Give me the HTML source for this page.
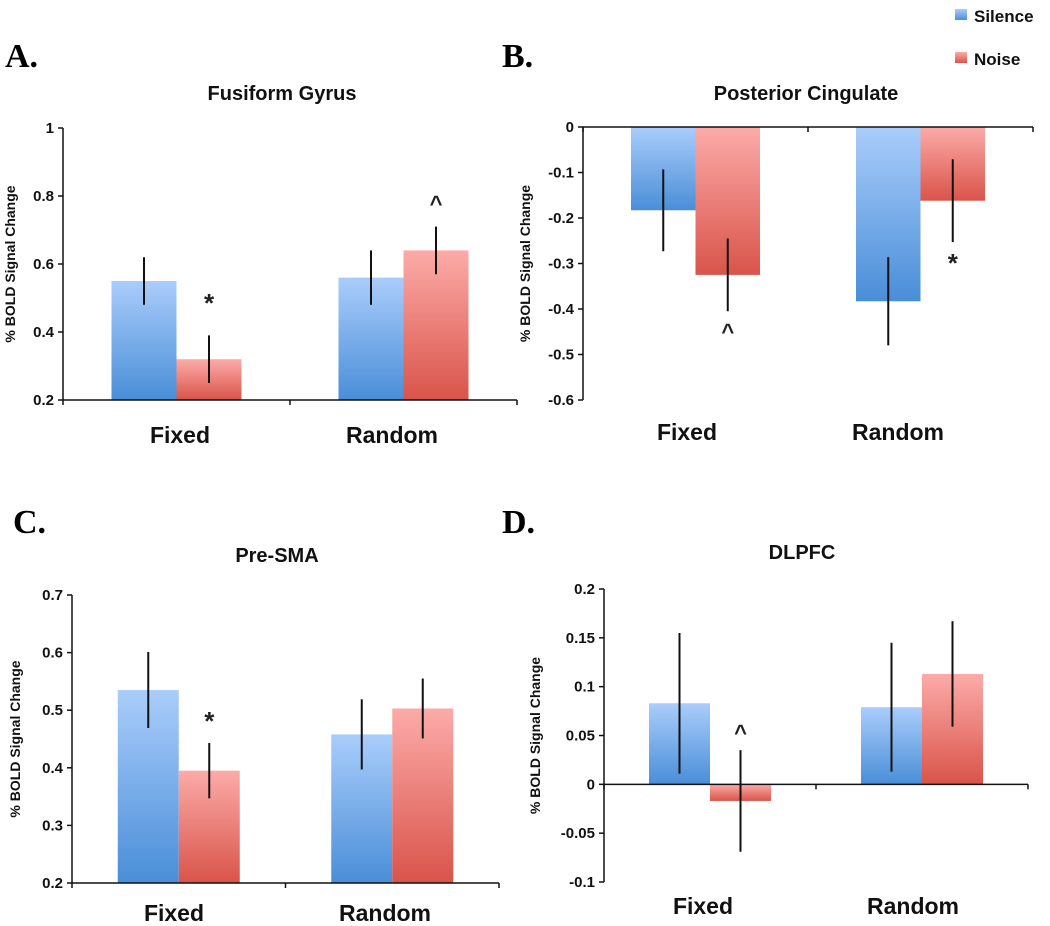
<!DOCTYPE html>
<html><head><meta charset="utf-8">
<style>
html,body{margin:0;padding:0;background:#fff;}
svg{display:block;font-family:"Liberation Sans",sans-serif;}
</style></head>
<body>
<svg id="chart" width="1050" height="926" viewBox="0 0 1050 926">
<defs>
<linearGradient id="gBlue" x1="0" y1="0" x2="0" y2="1"><stop offset="0" stop-color="#aacdfb"/><stop offset="1" stop-color="#4a8ed8"/></linearGradient>
<linearGradient id="gRed" x1="0" y1="0" x2="0" y2="1"><stop offset="0" stop-color="#fcaba8"/><stop offset="1" stop-color="#d9544a"/></linearGradient>
</defs>
<g>
<rect x="955" y="9" width="12" height="11" fill="url(#gBlue)"/>
<text x="974" y="22" font-size="17" font-weight="bold" fill="#111">Silence</text>
<rect x="955" y="52" width="12" height="11" fill="url(#gRed)"/>
<text x="974" y="65" font-size="17" font-weight="bold" fill="#111">Noise</text>
</g>
</svg>
<script>
const categories = ["Fixed", "Random"];
// Panel A: Fusiform Gyrus
const aSilence = [0.55, 0.56];
const aNoise = [0.32, 0.64];
const aSilenceErr = [0.07, 0.08];
const aNoiseErr = [0.07, 0.07];
const aTicks = [0.2, 0.4, 0.6, 0.8, 1];
const aTickLabels = ["0.2", "0.4", "0.6", "0.8", "1"];
const aMarks = ["", "*", "", "^"];
// Panel B: Posterior Cingulate
const bSilence = [-0.183, -0.383];
const bNoise = [-0.325, -0.162];
const bSilenceErr = [0.09, 0.097];
const bNoiseErr = [0.08, 0.091];
const bTicks = [-0.6, -0.5, -0.4, -0.3, -0.2, -0.1, 0];
const bTickLabels = ["-0.6", "-0.5", "-0.4", "-0.3", "-0.2", "-0.1", "0"];
const bMarks = ["", "^", "", "*"];
// Panel C: Pre-SMA
const cSilence = [0.535, 0.458];
const cNoise = [0.395, 0.503];
const cSilenceErr = [0.066, 0.061];
const cNoiseErr = [0.048, 0.052];
const cTicks = [0.2, 0.3, 0.4, 0.5, 0.6, 0.7];
const cTickLabels = ["0.2", "0.3", "0.4", "0.5", "0.6", "0.7"];
const cMarks = ["", "*", "", ""];
// Panel D: DLPFC
const dSilence = [0.083, 0.079];
const dNoise = [-0.017, 0.113];
const dSilenceErr = [0.072, 0.066];
const dNoiseErr = [0.052, 0.054];
const dTicks = [-0.1, -0.05, 0, 0.05, 0.1, 0.15, 0.2];
const dTickLabels = ["-0.1", "-0.05", "0", "0.05", "0.1", "0.15", "0.2"];
const dMarks = ["", "^", "", ""];

const svg = document.getElementById('chart');
const NS = 'http://www.w3.org/2000/svg';
function mk(tag, attrs, parent) {
  const e = document.createElementNS(NS, tag);
  for (const k in attrs) e.setAttribute(k, attrs[k]);
  parent.appendChild(e);
  return e;
}

function panel(cfg) {
  const g = mk('g', {}, svg);
  
  
  const ymin = cfg.ticks[0], ymax = cfg.ticks[cfg.ticks.length - 1];
  const y = v => cfg.yBot - (v - ymin) / (ymax - ymin) * (cfg.yBot - cfg.yTop);
  const xAxisY = y(cfg.base);
  const groupW = (cfg.xRight - cfg.xLeft) / categories.length;
  const x = i => cfg.xLeft + groupW * (i + 0.5);
  const bw = cfg.barW;

  let t = mk('text', {x: cfg.labelX, y: cfg.labelY, 'font-family': '"Liberation Serif",serif', 'font-size': 34, 'font-weight': 'bold', fill: '#000'}, g);
  t.textContent = cfg.letter;
  
  
  t = mk('text', {x: cfg.titleX, y: cfg.titleY, 'font-size': 20, 'font-weight': 'bold', 'text-anchor': 'middle', fill: '#111'}, g);
  t.textContent = cfg.title;
  
  
  const yc = (cfg.yTop + cfg.yBot) / 2;
  t = mk('text', {x: cfg.yTitleX, y: yc, 'font-size': 14, 'font-weight': 'bold', 'text-anchor': 'middle', fill: '#111', transform: 'rotate(-90 ' + cfg.yTitleX + ' ' + yc + ')'}, g);
  t.textContent = '% BOLD Signal Change';
  
  

  const series = [[cfg.silence, cfg.silenceErr, 'url(#gBlue)', 'silence'], [cfg.noise, cfg.noiseErr, 'url(#gRed)', 'noise']];
  categories.forEach((c, i) => {
    series.forEach((s, j) => {
      const v = s[0][i];
      const bx = x(i) - bw + j * bw;
      const top = Math.min(y(v), xAxisY), h = Math.abs(y(v) - xAxisY);
      const r = mk('rect', {x: bx, y: top, width: bw, height: h, fill: s[2]}, g);
      
      
    });
  });
  categories.forEach((c, i) => {
    series.forEach((s, j) => {
      const v = s[0][i], e = s[1][i];
      const cx = x(i) - bw / 2 + j * bw;
      const l = mk('line', {x1: cx, x2: cx, y1: y(v + e), y2: y(v - e), stroke: '#111', 'stroke-width': 2}, g);
      
      
      const m = cfg.marks[i * 2 + j];
      if (m) {
        const my = m === '*' ? cfg.markY[i * 2 + j] + 12 : cfg.markY[i * 2 + j] + 16;
        const mt = mk('text', {x: cx, y: my, 'font-size': m === '*' ? 26 : 22, 'font-weight': 'bold', 'text-anchor': 'middle', fill: '#222'}, g);
        mt.textContent = m;
        
        
      }
    });
  });

  let a = mk('line', {x1: cfg.xLeft, x2: cfg.xLeft, y1: cfg.yTop, y2: cfg.yBot, stroke: '#111', 'stroke-width': 1.5}, g);
  
  
  a = mk('line', {x1: cfg.xLeft, x2: cfg.xRight, y1: xAxisY, y2: xAxisY, stroke: '#111', 'stroke-width': 1.5}, g);
  
  
  for (let k = 0; k <= categories.length; k++) {
    const tx = cfg.xLeft + k * groupW;
    const tk = mk('line', {x1: tx, x2: tx, y1: xAxisY, y2: xAxisY + 5, stroke: '#111', 'stroke-width': 1.5}, g);
    
    
  }
  cfg.ticks.forEach((v, k) => {
    const tk = mk('line', {x1: cfg.xLeft - 5, x2: cfg.xLeft, y1: y(v), y2: y(v), stroke: '#111', 'stroke-width': 1.5}, g);
    
    
    const tl = mk('text', {x: cfg.xLeft - 9, y: y(v) + 5, 'font-size': 15, 'font-weight': 'bold', 'text-anchor': 'end', fill: '#111'}, g);
    tl.textContent = cfg.tickLabels[k];
    
    
  });
  categories.forEach((c, i) => {
    const cl = mk('text', {x: cfg.catX[i], y: cfg.catY, 'font-size': 23, 'font-weight': 'bold', 'text-anchor': 'middle', fill: '#111'}, g);
    cl.textContent = c;
    
    
  });
}

panel({id: 'fusiform', letter: 'A.', title: 'Fusiform Gyrus', labelX: 5, labelY: 67, titleX: 282, titleY: 100, yTitleX: 15,
  xLeft: 63, xRight: 517, yTop: 128, yBot: 400, barW: 65, base: 0.2,
  ticks: aTicks, tickLabels: aTickLabels, silence: aSilence, noise: aNoise, silenceErr: aSilenceErr, noiseErr: aNoiseErr,
  marks: aMarks, markY: [0, 300, 0, 195], catX: [180, 392], catY: 443});
panel({id: 'posterior-cingulate', letter: 'B.', title: 'Posterior Cingulate', labelX: 502, labelY: 67, titleX: 806, titleY: 100, yTitleX: 530,
  xLeft: 583, xRight: 1033, yTop: 127, yBot: 400, barW: 64.5, base: 0,
  ticks: bTicks, tickLabels: bTickLabels, silence: bSilence, noise: bNoise, silenceErr: bSilenceErr, noiseErr: bNoiseErr,
  marks: bMarks, markY: [0, 323, 0, 260], catX: [687, 898], catY: 440});
panel({id: 'pre-sma', letter: 'C.', title: 'Pre-SMA', labelX: 13, labelY: 533, titleX: 277, titleY: 562, yTitleX: 20,
  xLeft: 72, xRight: 499, yTop: 595, yBot: 883, barW: 61, base: 0.2,
  ticks: cTicks, tickLabels: cTickLabels, silence: cSilence, noise: cNoise, silenceErr: cSilenceErr, noiseErr: cNoiseErr,
  marks: cMarks, markY: [0, 718, 0, 0], catX: [174, 385], catY: 921});
panel({id: 'dlpfc', letter: 'D.', title: 'DLPFC', labelX: 502, labelY: 533, titleX: 802, titleY: 559, yTitleX: 540,
  xLeft: 604, xRight: 1028, yTop: 589, yBot: 882, barW: 61, base: 0,
  ticks: dTicks, tickLabels: dTickLabels, silence: dSilence, noise: dNoise, silenceErr: dSilenceErr, noiseErr: dNoiseErr,
  marks: dMarks, markY: [0, 724, 0, 0], catX: [703, 913], catY: 914});
</script>
</body></html>
